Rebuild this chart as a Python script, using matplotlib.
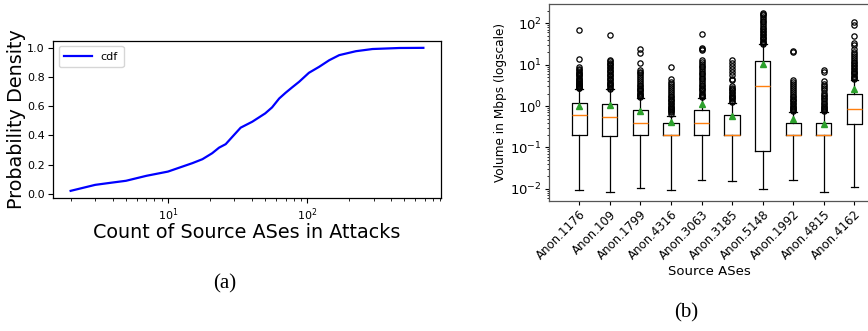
import matplotlib
matplotlib.use("Agg")
import matplotlib.pyplot as plt
import numpy as np

# ---------- data: panel (a) CDF ----------
cdf_x = [2, 3, 4, 5, 7, 10, 15, 17.7, 20.8, 23.3, 26, 29, 33.3, 40.4, 50, 56, 63, 70, 78,
         87.5, 103, 122, 144, 170, 224, 295, 460, 684]
cdf_y = [0.02, 0.061, 0.077, 0.089, 0.123, 0.152, 0.21, 0.237, 0.278, 0.316, 0.34, 0.39,
         0.453, 0.494, 0.551, 0.592, 0.653, 0.692, 0.729, 0.767, 0.829, 0.87, 0.915, 0.95,
         0.977, 0.992, 0.999, 1.0]

# ---------- data: panel (b) boxplots ----------
labels = ["Anon.1176", "Anon.109", "Anon.1799", "Anon.4316", "Anon.3063",
          "Anon.3185", "Anon.5148", "Anon.1992", "Anon.4815", "Anon.4162"]
q1 = [0.2, 0.19, 0.2, 0.2, 0.2, 0.2, 0.084, 0.2, 0.2, 0.365]
med = [0.6, 0.54, 0.4, 0.2, 0.4, 0.2, 3.1, 0.2, 0.2, 0.87]
q3 = [1.22, 1.13, 0.8, 0.4, 0.8, 0.6, 12.6, 0.4, 0.4, 2.0]
whislo = [0.0096, 0.0085, 0.0107, 0.0096, 0.0165, 0.0157, 0.0101, 0.0165, 0.0085, 0.0112]
whishi = [2.6, 2.55, 1.6, 0.59, 1.6, 1.2, 31, 0.7, 0.7, 4.3]
means = [1.0, 1.07, 0.77, 0.41, 1.15, 0.58, 10.3, 0.48, 0.37, 2.56]
fliers = [
    [2.7, 2.8, 2.9, 3.0, 3.1, 3.2, 3.4, 3.5, 3.7, 3.9, 4.1, 4.3, 4.6, 4.9, 5.2, 5.5, 5.9,
     6.3, 6.8, 7.4, 8.0, 8.8, 13.5, 70],
    [2.6, 2.8, 3.0, 3.2, 3.4, 3.6, 3.9, 4.2, 4.5, 4.8, 5.2, 5.6, 6.0, 6.5, 7.0, 7.6, 8.2,
     8.9, 9.6, 10.4, 11.2, 12.1, 13.0, 51],
    [1.65, 1.75, 1.85, 1.95, 2.1, 2.25, 2.4, 2.6, 2.8, 3.0, 3.3, 3.6, 4.0, 4.4, 5.0, 5.6,
     6.2, 6.8, 7.4, 10.8, 19, 23.5],
    [0.65, 0.7, 0.75, 0.8, 0.85, 0.9, 0.95, 1.0, 1.1, 1.2, 1.3, 1.4, 1.5, 1.65, 1.8, 2.0,
     2.2, 2.4, 2.7, 3.0, 3.4, 3.9, 4.5, 8.7],
    [1.7, 1.8, 1.9, 2.0, 2.2, 2.4, 2.6, 2.8, 3.0, 3.3, 3.6, 4.0, 4.4, 4.8, 5.3, 5.8, 6.4,
     7.0, 7.8, 8.6, 9.5, 10.5, 11.6, 12.8, 23, 24, 25, 55],
    [1.25, 1.35, 1.45, 1.55, 1.65, 1.75, 1.9, 2.05, 2.2, 2.4, 2.6, 2.8, 3.0, 4.2, 4.4, 5.6,
     6.6, 7.8, 9.2, 11, 13],
    [32, 34, 36, 38, 41, 44, 47, 51, 55, 60, 65, 71, 78, 86, 95, 105, 115, 127, 140, 155,
     170, 182],
    [0.75, 0.8, 0.85, 0.9, 0.95, 1.0, 1.1, 1.2, 1.3, 1.4, 1.5, 1.65, 1.8, 2.0, 2.2, 2.45,
     2.7, 3.0, 3.4, 3.8, 4.3, 20.5, 21],
    [0.75, 0.8, 0.85, 0.9, 0.95, 1.0, 1.1, 1.2, 1.3, 1.45, 1.6, 1.75, 1.9, 2.1, 2.4, 2.7,
     3.0, 3.5, 4.0, 6.5, 7.3],
    [4.4, 4.7, 5.0, 5.4, 5.8, 6.2, 6.7, 7.2, 7.8, 8.4, 9.1, 9.9, 10.8, 11.8, 13, 14.5, 16,
     18, 20, 24, 30, 34, 50, 90, 105],
]

W, H = 868, 331
fig = plt.figure(figsize=(W / 100, H / 100), dpi=100)

def px_axes(l, t, r, b):
    return fig.add_axes([l / W, 1 - b / H, (r - l) / W, (b - t) / H])

# ---------- panel (a) ----------
ax1 = px_axes(53, 40.7, 441, 198)
ax1.plot(cdf_x, cdf_y, color="blue", lw=1.6, label="cdf")
ax1.set_xscale("log")
ax1.tick_params(labelsize=8, length=3.5, width=0.8, pad=2.5)
ax1.tick_params(which="minor", length=2, width=0.6)
ax1.set_xlabel("Count of Source ASes in Attacks", fontsize=13.8, labelpad=0)
ax1.set_ylabel("Probability Density", fontsize=13.8, labelpad=1)
ax1.legend(loc="upper left", fontsize=8, handlelength=2.5, borderpad=0.5)
for s in ax1.spines.values():
    s.set_linewidth(0.9)

# ---------- panel (b) ----------
ax2 = px_axes(548.7, 4, 885, 201)
stats = []
for i in range(len(labels)):
    stats.append(dict(label=labels[i], q1=q1[i], med=med[i], q3=q3[i],
                      whislo=whislo[i], whishi=whishi[i], mean=means[i],
                      fliers=fliers[i]))
ax2.bxp(stats, showmeans=True, widths=0.5,
        boxprops=dict(color="black", lw=0.9),
        whiskerprops=dict(color="black", lw=0.9),
        capprops=dict(color="black", lw=0.9),
        medianprops=dict(color="#ff7f0e", lw=1.0),
        meanprops=dict(marker="^", markerfacecolor="#2ca02c", markeredgecolor="#2ca02c",
                       markersize=4.5),
        flierprops=dict(marker="o", markerfacecolor="none", markeredgecolor="black",
                        markersize=3.8, markeredgewidth=0.9))
ax2.set_yscale("log")
ax2.set_xlim(0, 11)
ax2.set_ylim(0.0051, 292)
ax2.set_xticks(range(1, len(labels) + 1))
ax2.set_xticklabels(labels, rotation=45, ha="right", rotation_mode="anchor", fontsize=8.5)
ax2.tick_params(axis="y", labelsize=9.5, length=3, width=0.8, pad=2)
ax2.tick_params(axis="x", length=3, width=0.8, pad=2)
ax2.tick_params(which="minor", length=1.8, width=0.6)
ax2.set_ylabel("Volume in Mbps (logscale)", fontsize=8.7, labelpad=2)
ax2.set_xlabel("Source ASes", fontsize=9.5, labelpad=1)
ax2.xaxis.set_label_coords((709 - 548.7) / (885 - 548.7), -0.325)
for s in ax2.spines.values():
    s.set_linewidth(0.9)
    s.set_color("#555555")

# ---------- captions ----------
fig.text(225 / W, 1 - 284 / H, "(a)", ha="center", va="center", fontsize=15,
         family="Liberation Serif")
fig.text(686 / W, 1 - 313 / H, "(b)", ha="center", va="center", fontsize=15,
         family="Liberation Serif")

fig.savefig("out.png", dpi=100)
